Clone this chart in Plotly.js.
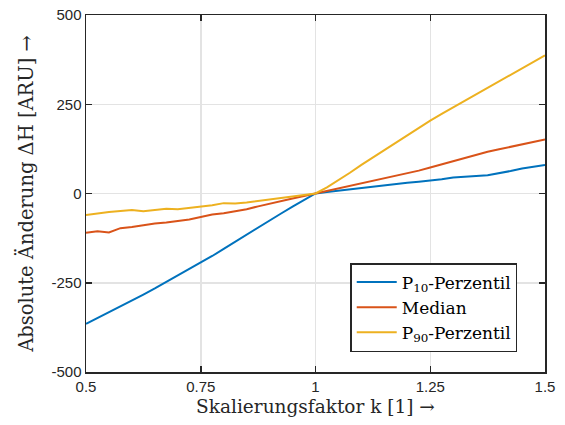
<!DOCTYPE html>
<html>
<head>
<meta charset="utf-8">
<script src="https://cdn.plot.ly/plotly-3.0.1.min.js"></script>
<style>html,body{margin:0;padding:0;background:#fff;}#chart{width:565px;height:425px;}</style>
</head>
<body>
<div id="chart"></div>
<script>
const kValues = [0.5,0.525,0.55,0.575,0.6,0.625,0.65,0.675,0.7,0.725,0.75,0.775,0.8,0.825,0.85,0.875,0.9,0.925,0.95,0.975,1.0,
  1.025,1.05,1.075,1.1,1.125,1.15,1.175,1.2,1.225,1.25,1.275,1.3,1.325,1.35,1.375,1.4,1.425,1.45,1.475,1.5];
const p10 = [-365,-349,-333,-316,-300,-283,-266,-248,-231,-213,-195,-175,-155,-135,-115,-94,-75,-56,-37,-18,0,
  4,8,11,14,18,22,27,30,33,36,40,45,48,49,51,56,63,70,74,80];
const median = [-110,-106,-109,-97,-94,-88,-84,-81,-77,-73,-66,-59,-55,-50,-44,-36,-28,-21,-14,-7,0,
  7,14,21,28,35,42,49,56,64,73,82,91,100,109,117,124,131,137,144,151];
const p90 = [-60,-55,-52,-49,-46,-50,-46,-43,-44,-40,-38,-33,-27,-28,-25,-21,-17,-12,-8,-4,0,
  17,37,58,80,101,122,143,163,184,204,223,241,260,278,296,314,332,350,369,387];
const seriesNames = ['P<sub>10</sub>-Perzentil','Median','P<sub>90</sub>-Perzentil'];
const seriesColors = ['#0072BD','#D95319','#EDB120'];
const xTicks = [0.5,0.75,1,1.25,1.5];
const xTickText = ['0.5','0.75','1','1.25','1.5'];
const yTicks = [-500,-250,0,250,500];
const yTickText = ['-500','-250','0','250','500'];

const series = [p10, median, p90];
const traces = series.map((ys, i) => ({
  x: kValues, y: ys, type: 'scatter', mode: 'lines', name: seriesNames[i],
  line: {color: seriesColors[i], width: 2}
}));

const serif = 'DejaVu Serif, serif';
const axisCommon = {
  showline: true, linecolor: '#262626', linewidth: 1.5, mirror: 'allticks',
  ticks: 'inside', ticklen: 6, tickwidth: 1.5, tickcolor: '#262626',
  showgrid: true, gridcolor: '#e3e3e3', gridwidth: 1.5, zeroline: false,
  tickfont: {family: 'Liberation Sans, Arial, sans-serif', size: 15, color: '#262626'}
};

const layout = {
  width: 565, height: 425,
  margin: {l: 86, r: 20, t: 15, b: 53},
  paper_bgcolor: '#fff', plot_bgcolor: '#fff',
  showlegend: true,
  xaxis: Object.assign({}, axisCommon, {
    range: [0.5, 1.5], tickvals: xTicks, ticktext: xTickText,
    title: {text: 'Skalierungsfaktor k [1] →', standoff: 6,
      font: {family: serif, size: 18.5, color: '#262626'}}
  }),
  yaxis: Object.assign({}, axisCommon, {
    range: [-500, 500], tickvals: yTicks, ticktext: yTickText,
    title: {text: 'Absolute Änderung ΔH [ARU] →', standoff: 12,
      font: {family: serif, size: 19.5, color: '#262626'}}
  }),
  legend: {
    x: 0.9395, y: 0.056, xanchor: 'right', yanchor: 'bottom', xref: 'paper', yref: 'paper',
    bgcolor: '#fff', bordercolor: '#262626', borderwidth: 1.5,
    font: {family: serif, size: 17, color: '#000'},
    itemwidth: 40, tracegroupgap: 0
  }
};

Plotly.newPlot('chart', traces, layout, {displayModeBar: false, staticPlot: true});
</script>
</body>
</html>
